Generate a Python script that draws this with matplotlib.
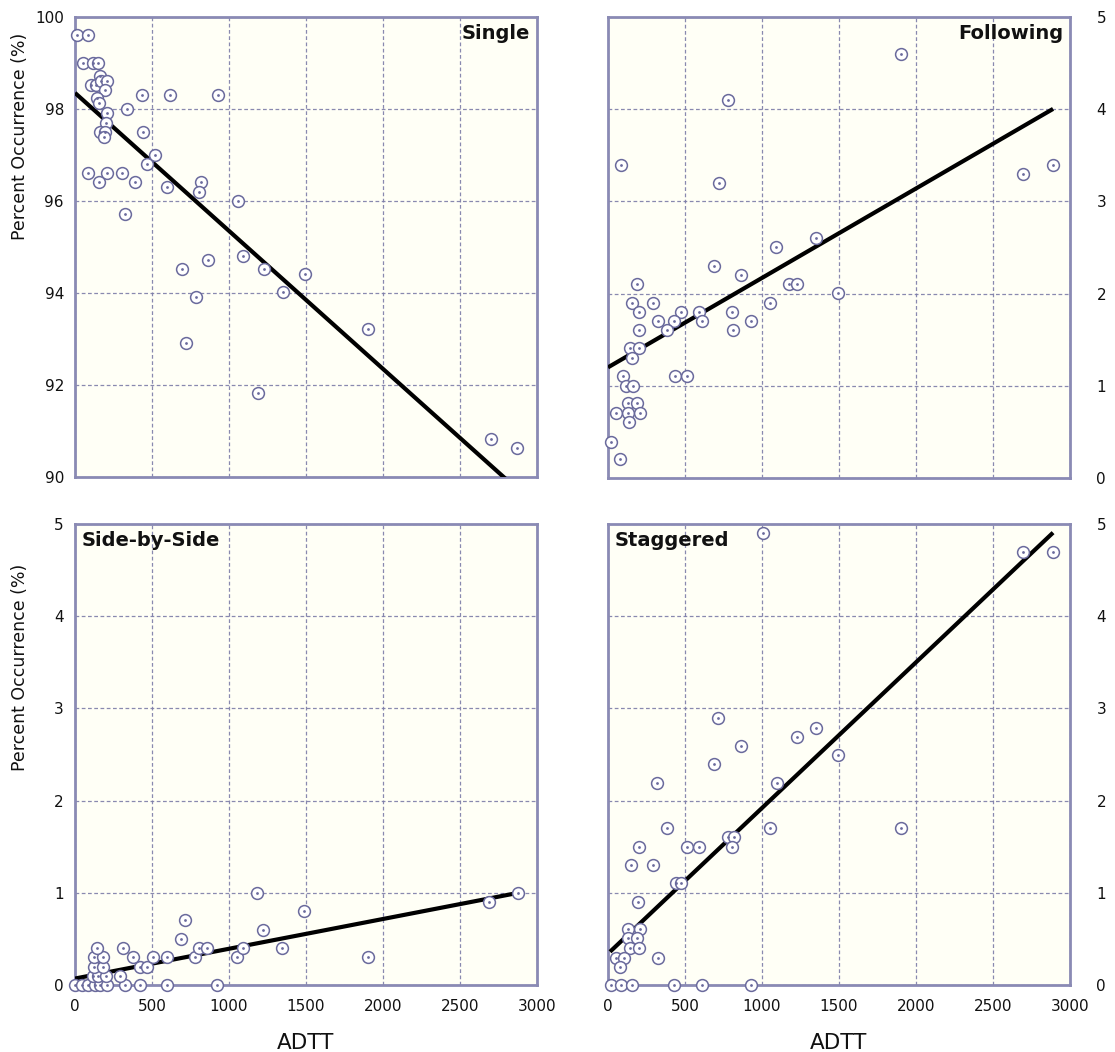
import matplotlib
matplotlib.use("Agg")
import matplotlib.pyplot as plt
import numpy as np

# ---------------- data ----------------
single_adtt = [13, 84, 52, 117, 149, 162, 104, 136, 169, 208, 195, 143, 156, 435, 617, 929,
               338, 208, 201, 162, 195, 188, 442, 519, 468, 84, 208, 305, 156, 390, 597, 818,
               805, 1058, 325, 695, 864, 1091, 1227, 1494, 1351, 786, 721, 1188, 1903, 2701, 2870]
single_pct = [99.61, 99.61, 99.0, 99.0, 99.0, 98.72, 98.52, 98.52, 98.61, 98.61, 98.41, 98.24,
              98.13, 98.30, 98.30, 98.30, 98.0, 97.91, 97.70, 97.50, 97.50, 97.39, 97.50, 97.0,
              96.80, 96.61, 96.61, 96.61, 96.41, 96.41, 96.30, 96.41, 96.20, 96.0, 95.72, 94.52,
              94.72, 94.80, 94.52, 94.41, 94.02, 93.91, 92.91, 91.83, 93.22, 90.83, 90.62]

follow_adtt = [84, 779, 1903, 721, 2695, 2890, 1351, 1091, 688, 864, 188, 1175, 1227, 1494, 1052,
               156, 292, 201, 474, 591, 805, 325, 429, 610, 929, 383, 201, 812, 143, 201, 156,
               97, 435, 513, 117, 162, 130, 188, 52, 130, 208, 136, 19, 78]
follow_pct = [3.39, 4.10, 4.60, 3.20, 3.30, 3.39, 2.60, 2.51, 2.30, 2.20, 2.10, 2.10, 2.10, 2.01,
              1.90, 1.90, 1.90, 1.80, 1.80, 1.80, 1.80, 1.70, 1.70, 1.70, 1.70, 1.61, 1.61, 1.61,
              1.41, 1.41, 1.30, 1.11, 1.11, 1.11, 1.0, 1.0, 0.81, 0.81, 0.70, 0.70, 0.70, 0.61,
              0.39, 0.21]

side_adtt = [0, 45, 84, 130, 162, 208, 325, 422, 597, 922,
             117, 149, 201, 292,
             123, 182, 422, 468,
             123, 182, 377, 506, 597, 779, 1052,
             143, 312, 805, 857, 1091, 1344,
             688, 714, 1221, 1182, 1487, 1903, 2688, 2877]
side_pct = [0, 0, 0, 0, 0, 0, 0, 0, 0, 0,
            0.1, 0.1, 0.1, 0.1,
            0.2, 0.2, 0.2, 0.2,
            0.3, 0.3, 0.3, 0.3, 0.3, 0.3, 0.3,
            0.4, 0.4, 0.4, 0.4, 0.4, 0.4,
            0.5, 0.7, 0.6, 1.0, 0.8, 0.3, 0.9, 1.0]

stag_adtt = [714, 1351, 1227, 864, 688, 1494, 318, 1097, 383, 1052, 1900, 201, 513, 591, 779,
             818, 805, 149, 292, 442, 474, 195, 130, 208, 130, 188, 143, 201, 52, 104, 325, 78,
             19, 84, 156, 429, 610, 929, 1006, 2695, 2890]
stag_pct = [2.90, 2.79, 2.69, 2.59, 2.40, 2.49, 2.19, 2.19, 1.70, 1.70, 1.70, 1.50, 1.50, 1.50,
            1.61, 1.61, 1.50, 1.30, 1.30, 1.11, 1.11, 0.90, 0.61, 0.61, 0.51, 0.51, 0.40, 0.40,
            0.29, 0.29, 0.29, 0.20, 0, 0, 0, 0, 0, 0, 4.90, 4.70, 4.70]

# fitted trend lines: (intercept, slope, x_start, x_end)
single_fit = (98.35, -0.0030, 0, 3000)
follow_fit = (1.20, 0.00097, 0, 2890)
side_fit = (0.07, 0.000323, 0, 2877)
stag_fit = (0.34, 0.00158, 13, 2890)

titles = ["Single", "Following", "Side-by-Side", "Staggered"]
x_ticks = [0, 500, 1000, 1500, 2000, 2500, 3000]
single_yticks = [90, 92, 94, 96, 98, 100]
pct_yticks = [0, 1, 2, 3, 4, 5]

# ---------------- style ----------------
plt.rcParams['font.family'] = ['DejaVu Sans']
SPINE = "#8a8ab4"
GRID = "#7c7ca8"
MARK = "#6a6a9c"
FACE = "#fffff6"

W, H = 1115, 1052
fig = plt.figure(figsize=(W / 100, H / 100), dpi=100)

def ax_rect(x0, y_top, w, h):
    return [x0 / W, 1 - (y_top + h) / H, w / W, h / H]

ax_tl = fig.add_axes(ax_rect(75, 17, 462, 460))
ax_tr = fig.add_axes(ax_rect(608, 17, 462, 461))
ax_bl = fig.add_axes(ax_rect(75, 524, 462, 461))
ax_br = fig.add_axes(ax_rect(608, 524, 462, 461))

panels = [
    (ax_tl, single_adtt, single_pct, single_fit, single_yticks, (90, 100), "left", False, "upper right"),
    (ax_tr, follow_adtt, follow_pct, follow_fit, pct_yticks, (0, 5), "right", False, "upper right"),
    (ax_bl, side_adtt, side_pct, side_fit, pct_yticks, (0, 5), "left", True, "upper left"),
    (ax_br, stag_adtt, stag_pct, stag_fit, pct_yticks, (0, 5), "right", True, "upper left"),
]

for (ax, xs, ys, fit, yt, ylim, yside, xlab, tpos), title in zip(panels, titles):
    ax.set_facecolor(FACE)
    ax.set_xlim(0, 3000)
    ax.set_ylim(*ylim)
    ax.set_xticks(x_ticks)
    ax.set_yticks(yt)
    ax.grid(True, color=GRID, linestyle=(0, (3, 2)), linewidth=0.9, alpha=0.9)
    ax.set_axisbelow(True)
    for sp in ax.spines.values():
        sp.set_color(SPINE)
        sp.set_linewidth(2.0)
    ax.tick_params(length=0, labelsize=11, colors="#111111")
    if yside == "right":
        ax.yaxis.tick_right()
        ax.tick_params(axis="y", pad=19)
    else:
        ax.tick_params(axis="y", pad=8)
    ax.tick_params(axis="x", pad=10)
    if not xlab:
        ax.tick_params(axis="x", labelbottom=False)
    else:
        ax.set_xlabel("ADTT", fontsize=15.5, labelpad=14, color="#111111")
    # fit line
    b0, b1, xa, xb = fit
    xl = np.array([xa, xb], dtype=float)
    ax.plot(xl, b0 + b1 * xl, color="black", linewidth=3.0, zorder=3, solid_capstyle="butt")
    # markers: open circle with centre dot
    ax.plot(xs, ys, linestyle="none", marker="o", markersize=8.5, markerfacecolor="white",
            markeredgecolor=MARK, markeredgewidth=1.1, zorder=4, clip_on=False)
    ax.plot(xs, ys, linestyle="none", marker="o", markersize=2.0, markerfacecolor=MARK,
            markeredgecolor=MARK, markeredgewidth=0, zorder=5, clip_on=False)
    if tpos == "upper right":
        ax.text(0.985, 0.985, title, transform=ax.transAxes, ha="right", va="top",
                fontsize=14, fontweight="bold", color="#111111")
    else:
        ax.text(0.015, 0.985, title, transform=ax.transAxes, ha="left", va="top",
                fontsize=14, fontweight="bold", color="#111111")

for ax, yc in [(ax_tl, 0.74), (ax_bl, 0.69)]:
    ax.set_ylabel("Percent Occurrence (%)", fontsize=12.5, color="#111111")
    ax.yaxis.set_label_coords(-0.10, yc)

fig.savefig("out.png", dpi=100)
